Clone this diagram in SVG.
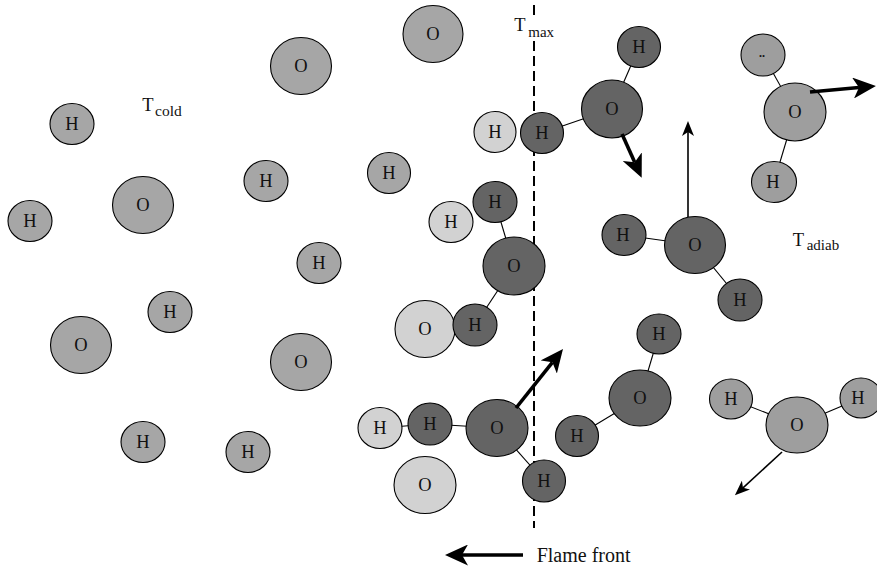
<svg xmlns="http://www.w3.org/2000/svg" width="877" height="570" viewBox="0 0 877 570">
  <style>
    .atom ellipse { stroke: #000; stroke-width: 1.1; }
    .cold ellipse { fill: #a6a6a6; }
    .light ellipse { fill: #d2d2d2; }
    .hot ellipse { fill: #646464; }
    .prod ellipse { fill: #9e9e9e; }
    .atom text { font-family: "Liberation Serif", "Times New Roman", serif; font-size: 18.5px; fill: #111; text-anchor: middle; }
    .bond { stroke: #000; stroke-width: 1.1; fill: none; }
    .thick { stroke: #000; stroke-width: 3.6; fill: none; marker-end: url(#headBig); }
    .thin { stroke: #000; stroke-width: 1.6; fill: none; marker-end: url(#headSmall); }
    .lbl { font-family: "Liberation Serif", "Times New Roman", serif; fill: #111; }
    .front { stroke: #000; stroke-width: 2; stroke-dasharray: 10 5; fill: none; }
  </style>
  <defs>
    <marker id="headBig" viewBox="0 0 23 21" refX="6" refY="10.5" markerWidth="23" markerHeight="21" markerUnits="userSpaceOnUse" orient="auto">
      <path d="M0,0 L23,10.5 L0,21 L6,10.5 Z" fill="#000"/>
    </marker>
    <marker id="headSmall" viewBox="0 0 15 12" refX="4" refY="6" markerWidth="15" markerHeight="12" markerUnits="userSpaceOnUse" orient="auto">
      <path d="M0,0 L15,6 L0,12 L4,6 Z" fill="#000"/>
    </marker>
  </defs>
  <rect width="877" height="570" fill="#fff"/>

  <!-- flame front position -->
  <path class="front" d="M534,5 V18 M534,41 V528"/>

  <!-- chemical bonds -->
  <g id="bonds">
    <line class="bond" x1="542" y1="133" x2="612" y2="109"/>
    <line class="bond" x1="612" y1="109" x2="639" y2="47"/>
    <line class="bond" x1="495" y1="202" x2="514" y2="266"/>
    <line class="bond" x1="514" y1="266" x2="475" y2="325"/>
    <line class="bond" x1="380" y1="428" x2="430" y2="424"/>
    <line class="bond" x1="430" y1="424" x2="497" y2="428"/>
    <line class="bond" x1="497" y1="428" x2="544" y2="481"/>
    <line class="bond" x1="577" y1="436" x2="640" y2="398"/>
    <line class="bond" x1="640" y1="398" x2="659" y2="334"/>
    <line class="bond" x1="624" y1="235" x2="695" y2="245"/>
    <line class="bond" x1="695" y1="245" x2="740" y2="300"/>
    <line class="bond" x1="763" y1="55" x2="795" y2="112"/>
    <line class="bond" x1="795" y1="112" x2="774" y2="182"/>
    <line class="bond" x1="731" y1="399" x2="797" y2="425"/>
    <line class="bond" x1="797" y1="425" x2="861" y2="398"/>
  </g>

  <!-- unburnt mixture -->
  <g id="c-o1" class="atom cold"><ellipse cx="301" cy="66" rx="30.5" ry="28.5"/><text x="301" y="72">O</text></g>
  <g id="c-h1" class="atom cold"><ellipse cx="72" cy="124" rx="22" ry="20.5"/><text x="72" y="130">H</text></g>
  <g id="c-o2" class="atom cold"><ellipse cx="143" cy="205" rx="30.5" ry="28.5"/><text x="143" y="211">O</text></g>
  <g id="c-h2" class="atom cold"><ellipse cx="30" cy="221" rx="22" ry="20.5"/><text x="30" y="227">H</text></g>
  <g id="c-h3" class="atom cold"><ellipse cx="266" cy="181" rx="22" ry="20.5"/><text x="266" y="187">H</text></g>
  <g id="c-h4" class="atom cold"><ellipse cx="319" cy="263" rx="22" ry="20.5"/><text x="319" y="269">H</text></g>
  <g id="c-h5" class="atom cold"><ellipse cx="170" cy="312" rx="22" ry="20.5"/><text x="170" y="318">H</text></g>
  <g id="c-o3" class="atom cold"><ellipse cx="81" cy="345" rx="30.5" ry="28.5"/><text x="81" y="351">O</text></g>
  <g id="c-o4" class="atom cold"><ellipse cx="301" cy="362" rx="30.5" ry="28.5"/><text x="301" y="368">O</text></g>
  <g id="c-h6" class="atom cold"><ellipse cx="143" cy="442" rx="22" ry="20.5"/><text x="143" y="448">H</text></g>
  <g id="c-h7" class="atom cold"><ellipse cx="248" cy="452" rx="22" ry="20.5"/><text x="248" y="458">H</text></g>
  <g id="c-o5" class="atom cold"><ellipse cx="433" cy="34" rx="30" ry="28.5"/><text x="433" y="40">O</text></g>
  <g id="c-h8" class="atom cold"><ellipse cx="389" cy="173" rx="21.5" ry="20.5"/><text x="389" y="179">H</text></g>

  <!-- preheated radicals -->
  <g id="l-h1" class="atom light"><ellipse cx="495" cy="132" rx="21" ry="20.5"/><text x="495" y="138">H</text></g>
  <g id="l-h2" class="atom light"><ellipse cx="451" cy="222" rx="22" ry="20.5"/><text x="451" y="228">H</text></g>
  <g id="l-o1" class="atom light"><ellipse cx="425" cy="329" rx="30" ry="28.5"/><text x="425" y="335">O</text></g>
  <g id="l-h3" class="atom light"><ellipse cx="380" cy="428" rx="22" ry="20.5"/><text x="380" y="434">H</text></g>
  <g id="l-o2" class="atom light"><ellipse cx="425" cy="485" rx="31" ry="28.5"/><text x="425" y="491">O</text></g>

  <!-- reaction zone -->
  <g id="r-h1" class="atom hot"><ellipse cx="542" cy="133" rx="21.5" ry="20.5"/><text x="542" y="139">H</text></g>
  <g id="r-o1" class="atom hot"><ellipse cx="612" cy="109" rx="30.5" ry="29"/><text x="612" y="115">O</text></g>
  <g id="r-h2" class="atom hot"><ellipse cx="639" cy="47" rx="21.5" ry="20.5"/><text x="639" y="53">H</text></g>
  <g id="r-h3" class="atom hot"><ellipse cx="495" cy="202" rx="22" ry="20.5"/><text x="495" y="208">H</text></g>
  <g id="r-o2" class="atom hot"><ellipse cx="514" cy="266" rx="31" ry="29"/><text x="514" y="272">O</text></g>
  <g id="r-h4" class="atom hot"><ellipse cx="475" cy="325" rx="22" ry="21"/><text x="475" y="331">H</text></g>
  <g id="r-h5" class="atom hot"><ellipse cx="430" cy="424" rx="22" ry="21"/><text x="430" y="430">H</text></g>
  <g id="r-o3" class="atom hot"><ellipse cx="497" cy="428" rx="31" ry="28.5"/><text x="497" y="434">O</text></g>
  <g id="r-h6" class="atom hot"><ellipse cx="544" cy="481" rx="21.5" ry="21"/><text x="544" y="487">H</text></g>
  <g id="r-h7" class="atom hot"><ellipse cx="577" cy="436" rx="21.5" ry="20.5"/><text x="577" y="442">H</text></g>
  <g id="r-o4" class="atom hot"><ellipse cx="640" cy="398" rx="31" ry="28"/><text x="640" y="404">O</text></g>
  <g id="r-h8" class="atom hot"><ellipse cx="659" cy="334" rx="22" ry="20"/><text x="659" y="340">H</text></g>
  <g id="r-h9" class="atom hot"><ellipse cx="624" cy="235" rx="22" ry="20.5"/><text x="623" y="241">H</text></g>
  <g id="r-o5" class="atom hot"><ellipse cx="695" cy="245" rx="30.5" ry="28.5"/><text x="695" y="251">O</text></g>
  <g id="r-h10" class="atom hot"><ellipse cx="740" cy="300" rx="22" ry="21"/><text x="740" y="306">H</text></g>

  <!-- burnt products -->
  <g id="p-h1" class="atom prod"><ellipse cx="763" cy="55" rx="22" ry="21"/><text x="762" y="57" style="font-size:12px;font-weight:bold">..</text></g>
  <g id="p-o1" class="atom prod"><ellipse cx="795" cy="112" rx="31" ry="29"/><text x="795" y="118">O</text></g>
  <g id="p-h2" class="atom prod"><ellipse cx="774" cy="182" rx="22.5" ry="20.5"/><text x="773" y="188">H</text></g>
  <g id="p-h3" class="atom prod"><ellipse cx="731" cy="399" rx="21.5" ry="20"/><text x="731" y="405">H</text></g>
  <g id="p-o2" class="atom prod"><ellipse cx="797" cy="425" rx="31" ry="28"/><text x="797" y="431">O</text></g>
  <g id="p-h4" class="atom prod"><ellipse cx="861" cy="398" rx="21" ry="20"/><text x="858" y="404">H</text></g>

  <!-- motion arrows -->
  <g id="arrows">
    <line class="thick" x1="622" y1="134" x2="634.7" y2="162.2"/>
    <line class="thick" x1="810" y1="92" x2="859" y2="87.5"/>
    <line class="thick" x1="516" y1="408" x2="552.4" y2="362.3"/>
    <line class="thick" x1="523" y1="555" x2="462" y2="555"/>
    <line class="thin" x1="688" y1="217" x2="688" y2="132"/>
    <line class="thin" x1="782" y1="452" x2="743" y2="487.8"/>
  </g>

  <!-- temperature labels -->
  <text class="lbl" x="142.3" y="111" font-size="18.5">T<tspan x="155" y="116" font-size="15.5">cold</tspan></text>
  <text class="lbl" x="514.3" y="31" font-size="18.5">T<tspan x="528.3" y="36.7" font-size="15">max</tspan></text>
  <text class="lbl" x="792.7" y="245.7" font-size="18.5">T<tspan x="806.7" y="250" font-size="15">adiab</tspan></text>
  <text class="lbl" x="536.7" y="561.7" font-size="20">Flame front</text>
</svg>
